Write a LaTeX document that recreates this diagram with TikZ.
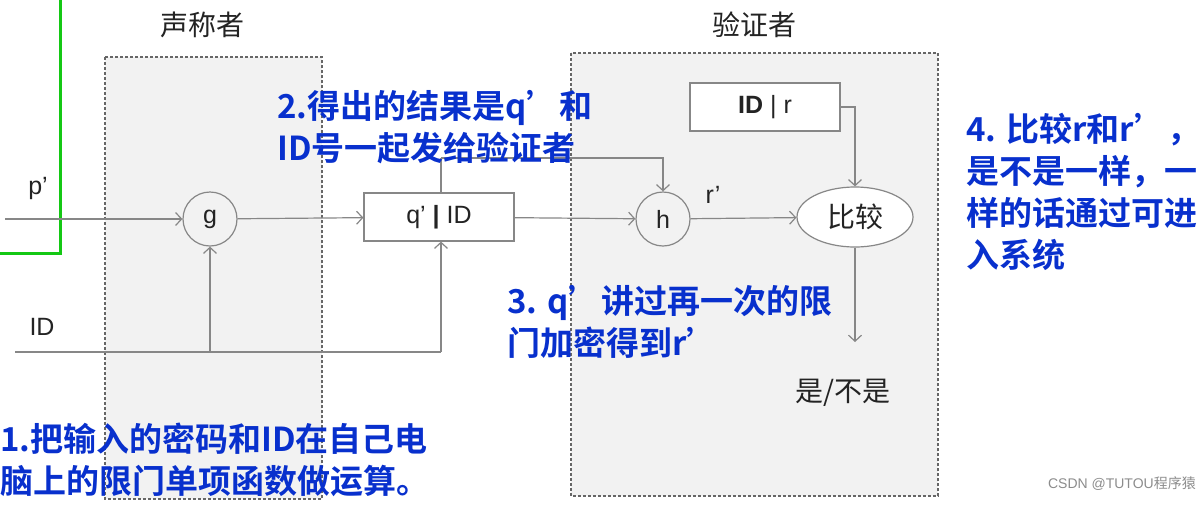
\documentclass[tikz,border=0pt]{standalone}
\usepackage{fontspec}
\setmainfont{Liberation Sans}
\newfontfamily\cjk{Noto Sans CJK SC}
\newfontfamily\cjkbold{Noto Sans CJK SC Bold}
\usetikzlibrary{shapes.geometric,arrows.meta}
\definecolor{linegray}{RGB}{135,135,135}
\definecolor{textgray}{RGB}{35,35,35}
\definecolor{noteblue}{RGB}{8,48,205}
\definecolor{boxfill}{RGB}{242,242,242}
\definecolor{markgreen}{RGB}{20,200,20}
\tikzset{party box/.style={draw=black!60, fill=boxfill, line width=1.1pt, dash pattern=on 3pt off 2pt}}
\tikzset{flow/.style={draw=linegray, line width=1.2pt, -{Straight Barb[length=6pt,width=13pt,line width=1.2pt]}}}
\tikzset{wire/.style={draw=linegray, line width=1.2pt}}
\tikzset{op/.style={circle, draw=linegray, line width=1.2pt, minimum size=54pt, inner sep=0pt, text=textgray, font=\fontsize{25}{25}\selectfont}}
\tikzset{block/.style={rectangle, draw=linegray, line width=1.2pt, fill=white, minimum width=150pt, minimum height=48pt, inner sep=0pt, text=textgray, font=\fontsize{25}{25}\selectfont}}
\tikzset{lbl/.style={text=textgray, inner sep=0pt, font=\fontsize{25}{25}\selectfont}}
\tikzset{cjklbl/.style={text=textgray, inner sep=0pt, font=\cjk\fontsize{28}{28}\selectfont}}
\tikzset{note/.style={text=noteblue, inner sep=0pt, align=left, font=\cjkbold\fontsize{33}{42}\selectfont}}

\begin{document}
\begin{tikzpicture}[x=1pt,y=-1pt]
\useasboundingbox (0,0) rectangle (1204,504);

\draw[markgreen, line width=3pt] (60,-5) -- (60,253) -- (-5,253);

\draw[party box] (105,57) rectangle (322,499);
\draw[party box] (571,53) rectangle (938,496);
\node[cjklbl] (claimant) at (202,25) {声称者};
\node[cjklbl] (verifier) at (754,25) {验证者};

\node[op] (g) at (210,219) {g};
\node[block] (qid) at (439,217) {q’ {\bfseries|} ID};
\node[op] (h) at (663,219) {h};
\node[ellipse, draw=linegray, line width=1.2pt, fill=white, minimum width=116pt, minimum height=60pt, inner sep=0pt, text=textgray, font=\cjk\fontsize{28}{28}\selectfont] (cmp) at (855,217) {比较};
\node[block] (idr) at (765,107) {{\bfseries ID} | r};

\coordinate (pin) at (5,219);
\coordinate (idin) at (15,352);
\coordinate (turn) at (441,158);
\coordinate (result) at (855,342);

\node[lbl] (plbl) at (38,188) {p’};
\node[lbl] (idlbl) at (42,327) {ID};
\node[lbl] (rlbl) at (713,195) {r’};
\node[cjklbl] (answer) at (843,393) {是/不是};

\draw[flow] (pin) -- (g);
\draw[flow] (g) -- (qid);
\draw[flow] (qid) -- (h);
\draw[flow] (h) -- (cmp);
\draw[wire] (qid.north -| turn) -- (turn);
\draw[flow] (turn) -| (h.north);
\draw[wire] (idin) -- (idin -| turn);
\draw[flow] (idin -| g) -- (g);
\draw[flow] (idin -| turn) -- (qid.south -| turn);
\draw[flow] (idr.east) -| (cmp.north);
\draw[flow] (cmp) -- (result);

\node[note, anchor=west] (step1) at (0,460) {1.把输入的密码和ID在自己电\\脑上的限门单项函数做运算。};
\node[note, anchor=west] (step2) at (277,127) {2.得出的结果是q’和\\ID号一起发给验证者};
\node[note, anchor=west] (step3) at (507,322) {3. q’讲过再一次的限\\门加密得到r’};
\node[note, anchor=west] (step4) at (966,192) {4. 比较r和r’，\\是不是一样，一\\样的话通过可进\\入系统};

\node[anchor=east, text=black!45, inner sep=0pt, font=\fontsize{14}{14}\selectfont] (mark) at (1196,484) {CSDN @TUTOU{\cjk 程序猿}};
\end{tikzpicture}
\end{document}
